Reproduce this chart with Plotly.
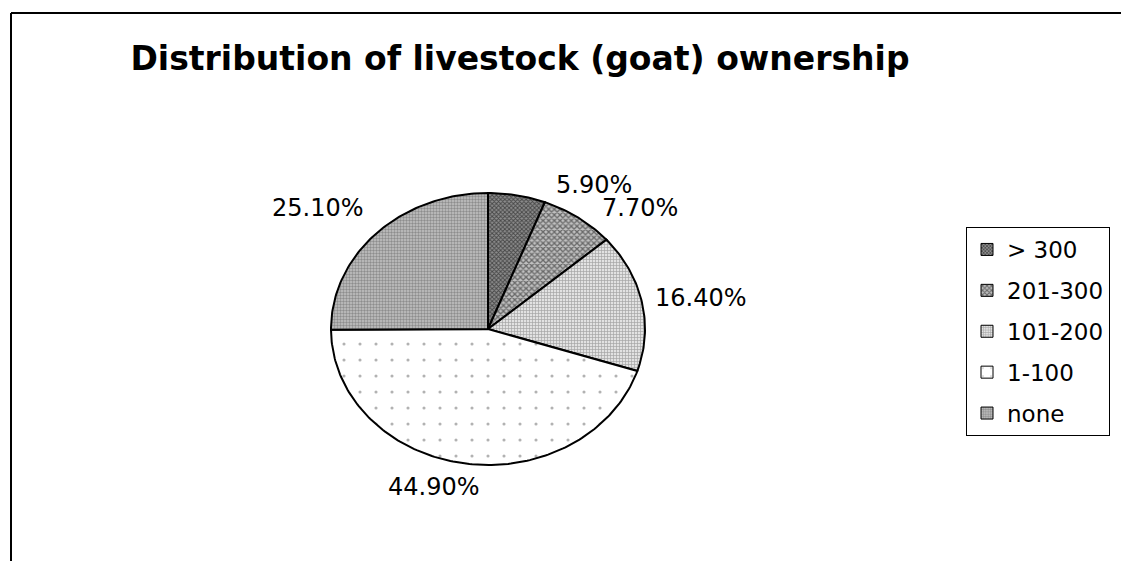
import numpy as np
import plotly.graph_objects as go

# ---- data ----
categories = ["> 300", "201-300", "101-200", "1-100", "none"]
values = [5.9, 7.7, 16.4, 44.9, 25.1]
title_text = "Distribution of livestock (goat) ownership"

# ---- style ----
W, H = 1121, 561
CX, CY, RX, RY = 488, 329, 157, 136
patterns = [
    dict(shape="x", fgcolor="#000000", bgcolor="#8c8c8c", size=3, solidity=0.5),
    dict(shape="x", fgcolor="#111111", bgcolor="#c0c0c0", size=4, solidity=0.55),
    dict(shape="+", fgcolor="#666666", bgcolor="#e2e2e2", size=3, solidity=0.4),
    dict(shape=".", fgcolor="#666666", bgcolor="#ffffff", size=16, solidity=0.03),
    dict(shape=".", fgcolor="#555555", bgcolor="#c4c4c4", size=3, solidity=0.5),
]
label_shift = [(77, 10), (62, 10), (59, 4), (-30, -24), (-59, 25)]
FONT = "DejaVu Sans"

fig = go.Figure()
total = sum(values)
cum = 0.0
annotations = []
for i, (cat, v) in enumerate(zip(categories, values)):
    a0 = cum / total * 2 * np.pi
    a1 = (cum + v) / total * 2 * np.pi
    cum += v
    n = max(4, int(np.degrees(a1 - a0)))
    th = np.linspace(a0, a1, n)
    xs = np.concatenate([[CX], CX + RX * np.sin(th), [CX]])
    ys = np.concatenate([[CY], CY - RY * np.cos(th), [CY]])
    fig.add_trace(go.Scatter(
        x=xs, y=ys, mode="lines", fill="toself",
        fillcolor=patterns[i]["bgcolor"], fillpattern=patterns[i],
        line=dict(color="black", width=2), showlegend=False,
        hoverinfo="skip"))
    # legend entry (square symbol)
    fig.add_trace(go.Bar(
        x=[None], y=[None], name=cat, legendgroup=cat,
        marker=dict(color=patterns[i]["bgcolor"], pattern=patterns[i],
                    line=dict(color="black", width=1))))
    am = (a0 + a1) / 2
    annotations.append(dict(
        x=CX + RX * np.sin(am), y=CY - RY * np.cos(am),
        xref="x", yref="y", text=f"{v:.2f}%", showarrow=False,
        xshift=label_shift[i][0], yshift=label_shift[i][1],
        font=dict(family=FONT, size=24, color="black")))

fig.update_layout(
    width=W, height=H,
    margin=dict(l=0, r=0, t=0, b=0),
    paper_bgcolor="white", plot_bgcolor="white",
    xaxis=dict(range=[0, W], visible=False, fixedrange=True),
    yaxis=dict(range=[H, 0], visible=False, fixedrange=True),
    title=dict(text=title_text, x=520 / W, xanchor="center",
               y=1 - 58 / H, yanchor="middle", yref="container",
               font=dict(family=FONT, size=33, color="black", weight="bold")),
    annotations=annotations,
    legend=dict(x=966 / W, y=1 - 227 / H, xanchor="left", yanchor="top",
                bgcolor="white", bordercolor="black", borderwidth=1,
                font=dict(family=FONT, size=23, color="black"),
                traceorder="grouped", tracegroupgap=8),
    shapes=[
        dict(type="line", xref="x", yref="y", x0=11, y0=13, x1=W, y1=13,
             line=dict(color="black", width=2)),
        dict(type="line", xref="x", yref="y", x0=11, y0=13, x1=11, y1=H,
             line=dict(color="black", width=2)),
    ],
)

fig.write_html("out.html")
